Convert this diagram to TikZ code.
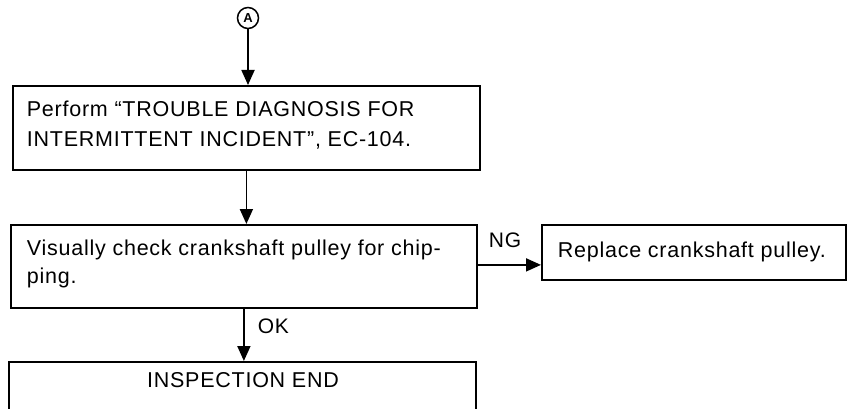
\documentclass[tikz,border=0pt]{standalone}
\usepackage{fontspec}
\setmainfont{Liberation Sans}[LetterSpace=3.5]
\usetikzlibrary{arrows.meta}
\begin{document}
\begin{tikzpicture}[x=1pt,y=-1pt, line width=1.8pt,
  box/.style={draw, rectangle, inner sep=0pt, anchor=north west},
  txt/.style={anchor=north west, inner sep=0pt, align=left, font=\fontsize{21.5}{30}\selectfont},
  lbl/.style={anchor=base west, inner sep=0pt, font=\fontsize{21}{22}\selectfont},
  arr/.style={-{Triangle[length=15pt,width=13pt]}}]
\useasboundingbox (0,0) rectangle (854,409);
\clip (0,0) rectangle (854,409);
% connector marker
\node[draw, circle, line width=1.5pt, inner sep=0pt, minimum size=21pt, font=\fontsize{13}{13}\selectfont\bfseries] (A) at (248,18) {A};
% boxes
\node[box, minimum width=467pt, minimum height=84pt] (b1) at (12,85) {};
\node[box, minimum width=466pt, minimum height=83pt] (b2) at (10,224) {};
\node[box, minimum width=304pt, minimum height=55pt] (b3) at (541,224) {};
\node[box, minimum width=467pt, minimum height=70pt] (b4) at (8,361) {};
% texts
\node[txt] (t1) at (26,100) {Perform “TROUBLE DIAGNOSIS FOR\\INTERMITTENT INCIDENT”, EC-104.};
\node[txt, font=\fontsize{21.5}{28}\selectfont] (t2) at (26,239) {Visually check crankshaft pulley for chip-\\ping.};
\node[txt] (t3) at (557,241) {Replace crankshaft pulley.};
\node[txt, anchor=north] (t4) at (243,372) {INSPECTION END};
% connectors
\draw[arr] (A) -- (A |- b1.north);
\draw[arr] (b1.south) -- (b1.south |- b2.north);
\draw[arr] (b2.south) -- (b2.south |- b4.north);
\draw[arr] ([yshift=1.5pt]b2.east) -- ([yshift=1.5pt]b2.east -| b3.west);
\node[lbl] (ng) at (488,247) {NG};
\node[lbl] (ok) at (257,333) {OK};
\end{tikzpicture}
\end{document}
